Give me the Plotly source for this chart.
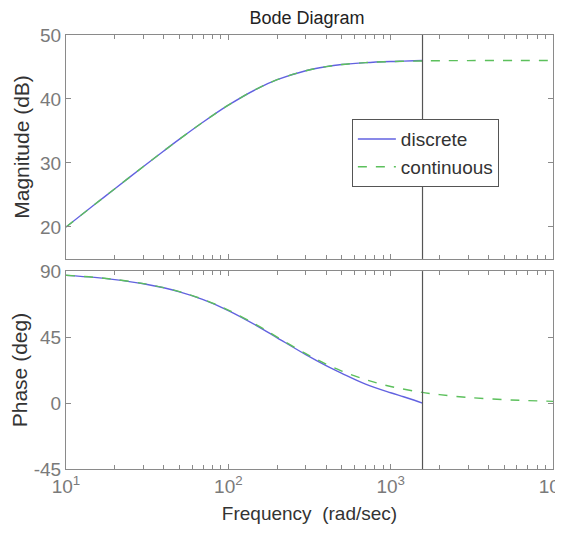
import plotly.graph_objects as go
from plotly.subplots import make_subplots

# Frequencies (rad/sec)
freq_cont = [10, 15, 20, 30, 40, 50, 70, 100, 150, 200, 300, 400, 500, 700,
             1000, 1500, 2000, 3000, 5000, 7000, 10000]
mag_cont = [19.99, 23.50, 25.98, 29.45, 31.87, 33.72, 36.40, 39.03, 41.58, 43.01,
            44.42, 45.05, 45.38, 45.68, 45.85, 45.94, 45.98, 46.00, 46.01, 46.02, 46.02]
phase_cont = [87.14, 85.71, 84.29, 81.47, 78.69, 75.96, 70.71, 63.43, 53.13, 45.0,
              33.69, 26.57, 21.80, 15.95, 11.31, 7.59, 5.71, 3.81, 2.29, 1.64, 1.15]

freq_disc = [10, 15, 20, 30, 40, 50, 70, 100, 150, 200, 300, 400, 500, 700,
             1000, 1200, 1400, 1571]
mag_disc = [19.99, 23.50, 25.98, 29.45, 31.87, 33.72, 36.40, 39.03, 41.58, 43.01,
            44.42, 45.05, 45.38, 45.68, 45.86, 45.92, 45.97, 46.02]
phase_disc = [87.1, 85.7, 84.2, 81.4, 78.6, 75.8, 70.5, 63.1, 52.7, 44.5,
              33.0, 25.5, 20.3, 12.9, 7.0, 4.3, 1.9, 0.0]

nyquist = 1571

x_tickvals = [10, 100, 1000, 10000]
x_ticktext = ["10<sup>1</sup>", "10<sup>2</sup>", "10<sup>3</sup>", "10<sup>4</sup>"]
x_minor = [m * d for d in (10, 100, 1000) for m in range(2, 10)]
mag_ticks = [20, 30, 40, 50]
phase_ticks = [-45, 0, 45, 90]
phase_ticktext = ["-45", "0", "45", "90"]

blue = "#6262e0"
green = "#5cc05c"
axcol = "#8a8a8a"
FONT = "Liberation Sans, Arial"

fig = make_subplots(rows=2, cols=1, shared_xaxes=False, vertical_spacing=0.028,
                    row_heights=[0.516, 0.456])

fig.add_trace(go.Scatter(x=freq_disc, y=mag_disc, mode="lines", name="discrete",
                         line=dict(color=blue, width=1.4, shape="spline")), row=1, col=1)
fig.add_trace(go.Scatter(x=freq_cont, y=mag_cont, mode="lines", name="continuous",
                         line=dict(color=green, width=1.4, dash="dash", shape="spline")), row=1, col=1)
fig.add_trace(go.Scatter(x=freq_disc, y=phase_disc, mode="lines", name="discrete",
                         showlegend=False,
                         line=dict(color=blue, width=1.4, shape="spline")), row=2, col=1)
fig.add_trace(go.Scatter(x=freq_cont, y=phase_cont, mode="lines", name="continuous",
                         showlegend=False,
                         line=dict(color=green, width=1.4, dash="dash", shape="spline")), row=2, col=1)

for r, yr in [(1, "y domain"), (2, "y2 domain")]:
    fig.add_shape(type="line", x0=nyquist, x1=nyquist, y0=0, y1=1,
                  xref="x" if r == 1 else "x2", yref=yr,
                  line=dict(color="#555555", width=1.2))

xcommon = dict(type="log", range=[1, 4], tickmode="array", tickvals=x_tickvals,
               ticktext=x_ticktext, ticklabeloverflow="allow",
               ticks="inside", ticklen=5, tickcolor=axcol, showline=True,
               linecolor=axcol, linewidth=1, mirror="ticks", showgrid=False,
               zeroline=False,
               minor=dict(tickmode="array", tickvals=x_minor, ticks="inside", ticklen=4,
                          tickcolor=axcol, showgrid=False),
               tickfont=dict(family=FONT, size=19, color="#7a7a7a"))
fig.update_xaxes(**xcommon, showticklabels=False, row=1, col=1)
fig.update_xaxes(**xcommon, showticklabels=True,
                 title=dict(text="Frequency\u00a0 (rad/sec)", standoff=10,
                            font=dict(family=FONT, size=19, color="#333333")),
                 row=2, col=1)

ycommon = dict(ticks="inside", ticklen=5, tickcolor=axcol, showline=True,
               linecolor=axcol, linewidth=1, mirror="ticks", showgrid=False,
               zeroline=False,
               tickfont=dict(family=FONT, size=19, color="#7a7a7a"))
fig.update_yaxes(**ycommon, range=[15, 50], tickvals=mag_ticks,
                 title=dict(text="Magnitude (dB)", standoff=4,
                            font=dict(family=FONT, size=21, color="#333333")),
                 row=1, col=1)
fig.update_yaxes(**ycommon, range=[-45, 90], tickvals=phase_ticks, ticktext=phase_ticktext,
                 title=dict(text="Phase (deg)", standoff=4,
                            font=dict(family=FONT, size=21, color="#333333")),
                 row=2, col=1)

fig.update_layout(
    width=555, height=525,
    margin=dict(l=58, r=10, t=27, b=64, autoexpand=False),
    paper_bgcolor="white", plot_bgcolor="white",
    title=dict(text="Bode Diagram", xref="paper", x=0.495, xanchor="center",
               yref="container", y=0.993, yanchor="top",
               font=dict(family=FONT, size=18, color="#222222")),
    legend=dict(x=0.587, y=0.806, xanchor="left", yanchor="top",
                bgcolor="white", bordercolor="#555555", borderwidth=1,
                font=dict(family=FONT, size=19, color="#333333"),
                itemwidth=38, tracegroupgap=0),
    showlegend=True,
)

fig.write_html("out.html")
